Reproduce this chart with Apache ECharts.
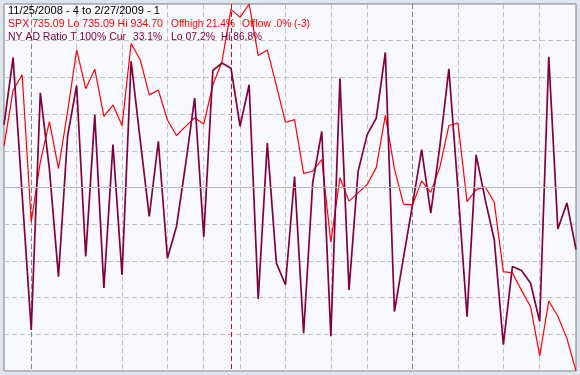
<!DOCTYPE html>
<html><head><meta charset="utf-8">
<script src="https://cdn.jsdelivr.net/npm/echarts@6/dist/echarts.min.js"></script>
<style>html,body{margin:0;padding:0;background:#DCE4EE;overflow:hidden;} #c{width:580px;height:375px;}</style>
</head><body><div id="c"></div>
<script>
// ---- data ----
const dates = ['11/25/2008','11/26/2008','11/28/2008',
 '12/01/2008','12/02/2008','12/03/2008','12/04/2008','12/05/2008',
 '12/08/2008','12/09/2008','12/10/2008','12/11/2008','12/12/2008',
 '12/15/2008','12/16/2008','12/17/2008','12/18/2008','12/19/2008',
 '12/22/2008','12/23/2008','12/24/2008','12/26/2008',
 '12/29/2008','12/30/2008','12/31/2008','01/02/2009',
 '01/05/2009','01/06/2009','01/07/2009','01/08/2009','01/09/2009',
 '01/12/2009','01/13/2009','01/14/2009','01/15/2009','01/16/2009',
 '01/20/2009','01/21/2009','01/22/2009','01/23/2009',
 '01/26/2009','01/27/2009','01/28/2009','01/29/2009','01/30/2009',
 '02/02/2009','02/03/2009','02/04/2009','02/05/2009','02/06/2009',
 '02/09/2009','02/10/2009','02/11/2009','02/12/2009','02/13/2009',
 '02/17/2009','02/18/2009','02/19/2009','02/20/2009',
 '02/23/2009','02/24/2009','02/25/2009','02/26/2009','02/27/2009'];
const spx = [857.39,887.68,896.24,
 816.21,848.81,870.74,845.22,876.07,
 909.70,888.67,899.24,873.59,879.73,
 868.57,913.18,904.42,885.28,887.88,
 871.63,863.16,868.15,872.80,
 869.42,890.64,903.25,931.80,
 927.45,934.70,906.65,909.73,890.35,
 870.26,871.79,842.62,843.74,850.12,
 805.22,840.24,827.50,831.95,
 836.57,845.71,874.09,845.14,825.88,
 825.44,838.51,832.23,845.85,868.60,
 869.89,827.16,833.74,835.19,826.84,
 789.17,788.42,778.94,770.05,
 743.33,773.14,764.90,752.83,735.09];
const adRatio = [67.1,85.4,48.0,
 11.2,75.8,55.0,25.7,64.0,
 77.8,31.2,69.8,22.6,61.7,
 26.2,84.4,63.0,42.1,62.6,
 30.7,39.4,56.2,74.4,
 36.5,81.9,83.9,82.5,
 66.7,78.0,19.6,62.1,29.4,
 23.5,53.0,10.3,51.3,65.3,
 9.5,79.7,22.1,54.4,
 64.4,68.9,86.8,16.2,30.9,
 45.4,60.3,43.0,61.2,82.3,
 49.4,14.8,58.9,46.7,35.7,
 7.2,28.5,27.4,23.9,
 13.5,85.6,38.7,45.8,33.1];
const weekLines = ['12/08/2008','12/15/2008','12/22/2008','12/29/2008','01/05/2009','01/12/2009',
 '01/20/2009','01/26/2009','02/09/2009','02/17/2009','02/23/2009'];
const monthLines = ['12/01/2008','02/02/2009'];
const yearLines = ['01/02/2009'];
const spxRange = [735.09, 934.70];
const adRange = [0, 100];
const titleText = '11/25/2008 - 4 to 2/27/2009 - 1';
const spxTexts = ['SPX 735.09 Lo 735.09 Hi 934.70', 'Offhigh 21.4%', 'Offlow .0% (-3)'];
const adTexts = ['NY AD Ratio T 100% Cur', '33.1%', 'Lo 07.2%', 'Hi 86.8%'];

// ---- chart ----
const RED = '#FF0000', PURPLE = '#800040';
const FONT = '11px "Liberation Sans", Arial, sans-serif';
const measureCtx = document.createElement('canvas').getContext('2d');
measureCtx.font = FONT;
const chart = echarts.init(document.getElementById('c'), null, {renderer: 'canvas'});
function catAxis(list, color, type) {
  return {
    type: 'category', data: dates, boundaryGap: false,
    axisLine: {show: false}, axisTick: {show: false}, axisLabel: {show: false},
    splitLine: {show: true, interval: (i, v) => list.indexOf(v) >= 0,
      lineStyle: {color: color, width: 1, type: type}}
  };
}
function txt(x, y, s, c, w) {
  const mw = measureCtx.measureText(s).width;
  return {type: 'text', x: x, y: y, z: 100, scaleX: w / mw,
    style: {text: s, fill: c, font: FONT, verticalAlign: 'middle'}};
}
const spxX = [8, 171, 242], spxW = [155, 64, 68];
const adX = [8, 133, 171, 221], adW = [118, 29, 44, 41];
const graphics = [txt(8, 10.5, titleText, '#000000', 152)];
spxTexts.forEach((s, i) => graphics.push(txt(spxX[i], 23.5, s, RED, spxW[i])));
adTexts.forEach((s, i) => graphics.push(txt(adX[i], 36.5, s, PURPLE, adW[i])));

chart.setOption({
  animation: false,
  grid: {left: 4, right: 4, top: 4, bottom: 4, show: true,
    backgroundColor: '#F8F9FE', borderColor: '#7C7C7C', borderWidth: 1},
  xAxis: [
    catAxis(weekLines, '#C0C0C0', [5, 3]),
    catAxis(monthLines, '#808080', [5, 3]),
    catAxis(yearLines, '#E00000', [5, 3])
  ],
  yAxis: [
    {type: 'value', min: adRange[0], max: adRange[1], interval: 10,
      axisLine: {show: false}, axisTick: {show: false}, axisLabel: {show: false},
      splitLine: {show: true, lineStyle: {color: '#C0C0C0', type: [5, 3]}}},
    {type: 'value', min: spxRange[0], max: spxRange[1],
      axisLine: {show: false}, axisTick: {show: false}, axisLabel: {show: false},
      splitLine: {show: false}}
  ],
  graphic: graphics,
  series: [
    {type: 'line', name: 'SPX', data: spx, yAxisIndex: 1, symbol: 'none',
      lineStyle: {color: RED, width: 1.2}, z: 3},
    {type: 'line', name: 'NY AD Ratio', data: adRatio, yAxisIndex: 0, symbol: 'none',
      lineStyle: {color: PURPLE, width: 1.7}, z: 4,
      markLine: {silent: true, symbol: 'none', label: {show: false},
        lineStyle: {color: '#B4B4B4', type: 'solid', width: 1},
        data: [{yAxis: 50}]}}
  ]
});
</script>
</body></html>
